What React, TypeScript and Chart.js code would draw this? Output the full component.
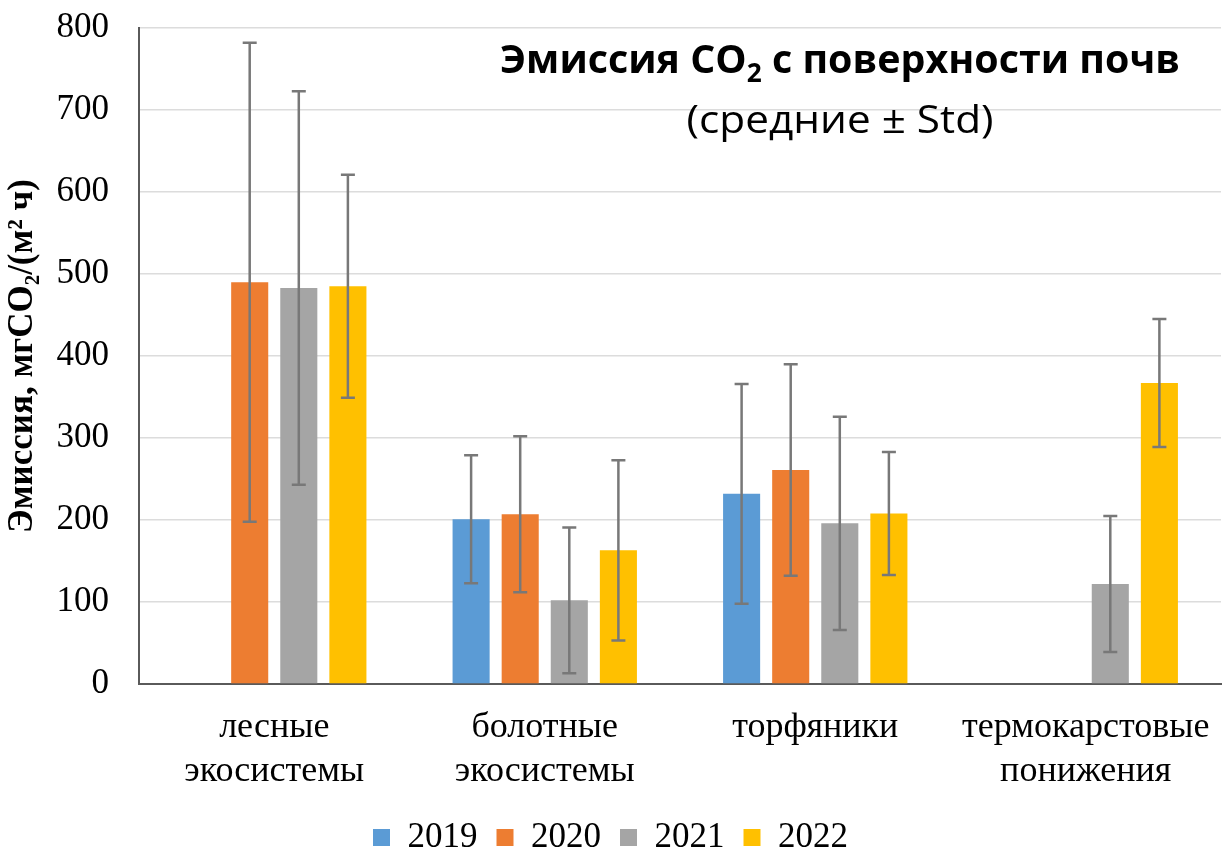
import { useEffect, useRef } from 'react';
import { Chart, registerables } from 'chart.js';

Chart.register(...registerables);

// Soil CO2 emission by ecosystem type, mean ± std per year
const categories: string[][] = [
  ['лесные', 'экосистемы'],
  ['болотные', 'экосистемы'],
  ['торфяники'],
  ['термокарстовые', 'понижения'],
];
const years = ['2019', '2020', '2021', '2022'];
const yearColors = ['#5B9BD5', '#ED7D31', '#A5A5A5', '#FFC000'];

const mean2019 = [null, 201, 232, null];
const mean2020 = [490, 207, 261, null];
const mean2021 = [483, 102, 196, 122];
const mean2022 = [485, 163, 208, 367];

const std2019 = [null, 78, 134, null];
const std2020 = [292, 95, 129, null];
const std2021 = [240, 89, 130, 83];
const std2022 = [136, 110, 75, 78];

const means = [mean2019, mean2020, mean2021, mean2022];
const stds = [std2019, std2020, std2021, std2022];

const yMin = 0;
const yMax = 800;
const yStep = 100;

const titleMain = 'Эмиссия CO';
const titleSub = '2';
const titleRest = ' с поверхности почв';
const subtitle = '(средние \u00B1 Std)';
const yTitle = 'Эмиссия, мгCO\u2082/(м\u00B2 ч)';

const serif = '"Liberation Serif", "Times New Roman", serif';
const sans = '"Open Sans", "Noto Sans", sans-serif';

const errorBarsPlugin = {
  id: 'errorBars',
  afterDatasetsDraw(chart: any) {
    const ctx = chart.ctx;
    const yScale = chart.scales.y;
    chart.data.datasets.forEach((_ds: any, i: number) => {
      const meta = chart.getDatasetMeta(i);
      meta.data.forEach((bar: any, j: number) => {
        const m = means[i][j];
        const s = stds[i][j];
        if (m == null || s == null) return;
        const x = bar.x;
        const top = yScale.getPixelForValue(m + s);
        const bot = yScale.getPixelForValue(m - s);
        ctx.save();
        ctx.strokeStyle = '#787878';
        ctx.lineWidth = 2.5;
        ctx.beginPath();
        ctx.moveTo(x, top);
        ctx.lineTo(x, bot);
        ctx.moveTo(x - 7, top);
        ctx.lineTo(x + 7, top);
        ctx.moveTo(x - 7, bot);
        ctx.lineTo(x + 7, bot);
        ctx.stroke();
        ctx.restore();
      });
    });
  },
};

const titlePlugin = {
  id: 'insetTitle',
  afterDraw(chart: any) {
    const ctx = chart.ctx;
    const cx = 840;
    ctx.save();
    ctx.fillStyle = '#000';
    ctx.textBaseline = 'alphabetic';
    ctx.textAlign = 'left';

    // first line, bold with subscript
    const big = 'bold 39px ' + sans;
    const small = 'bold 26px ' + sans;
    ctx.font = big;
    const w1 = ctx.measureText(titleMain).width;
    const w3 = ctx.measureText(titleRest).width;
    ctx.font = small;
    const w2 = ctx.measureText(titleSub).width;
    const total = w1 + w2 + w3;
    const target = 680;
    const sx = target / total;
    ctx.translate(cx - target / 2, 73);
    ctx.scale(sx, 1);
    ctx.font = big;
    ctx.fillText(titleMain, 0, 0);
    ctx.font = small;
    ctx.fillText(titleSub, w1, 9);
    ctx.font = big;
    ctx.fillText(titleRest, w1 + w2, 0);
    ctx.restore();

    // second line
    ctx.save();
    ctx.fillStyle = '#000';
    ctx.textBaseline = 'alphabetic';
    ctx.font = '38px ' + sans;
    const ws = ctx.measureText(subtitle).width;
    const t2 = 307;
    ctx.translate(cx - t2 / 2, 133);
    ctx.scale(t2 / ws, 1);
    ctx.textAlign = 'left';
    ctx.fillText(subtitle, 0, 0);
    ctx.restore();
  },
};

export default function App() {
  const canvasRef = useRef<HTMLCanvasElement | null>(null);

  useEffect(() => {
    if (!canvasRef.current) return;
    const chart = new Chart(canvasRef.current, {
      type: 'bar',
      data: {
        labels: categories,
        datasets: years.map((yr, i) => ({
          label: yr,
          data: means[i],
          backgroundColor: yearColors[i],
          borderWidth: 0,
          categoryPercentage: 0.726,
          barPercentage: 0.755,
        })),
      },
      options: {
        animation: false,
        responsive: false,
        maintainAspectRatio: false,
        layout: { padding: { top: 28, right: 2, left: 0, bottom: -14 } },
        plugins: {
          title: { display: false },
          tooltip: { enabled: false },
          legend: {
            display: true,
            position: 'bottom',
            labels: {
              color: '#000',
              font: { family: serif, size: 35 },
              boxWidth: 17,
              boxHeight: 17,
              padding: 19,
            },
          },
        },
        scales: {
          x: {
            grid: { display: false, drawTicks: false },
            border: { display: true, color: '#5a5a5a', width: 2 },
            ticks: {
              color: '#000',
              font: { family: serif, size: 36, lineHeight: 1.22 },
              padding: 22,
              maxRotation: 0,
              autoSkip: false,
            },
            afterFit(scale: any) {
              scale.height = 117;
              scale.paddingLeft = 0;
              scale.paddingRight = 0;
            },
          },
          y: {
            min: yMin,
            max: yMax,
            grid: { color: '#dcdcdc', lineWidth: 1.5, drawTicks: false },
            border: { display: true, color: '#5a5a5a', width: 2 },
            ticks: {
              stepSize: yStep,
              color: '#000',
              font: { family: serif, size: 35 },
              padding: 30,
            },
            title: {
              display: true,
              text: yTitle,
              color: '#000',
              font: { family: serif, size: 35, weight: 'bold' },
              padding: { top: 2, bottom: 0 },
            },
            afterFit(scale: any) {
              scale.width = 139;
              scale.paddingTop = 0;
              scale.paddingBottom = 0;
            },
          },
        },
      },
      plugins: [errorBarsPlugin, titlePlugin],
    } as any);
    return () => chart.destroy();
  }, []);

  return (
    <div style={{ position: 'fixed', left: 0, top: 0, width: 1223, height: 851, background: '#fff' }}>
      <canvas ref={canvasRef} width={1223} height={851} style={{ display: 'block' }} />
    </div>
  );
}
